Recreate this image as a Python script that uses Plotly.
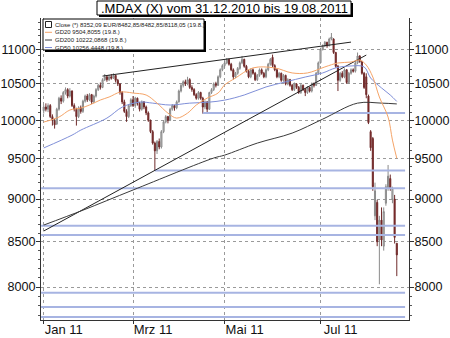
import numpy as np
import pandas as pd
import plotly.graph_objects as go

# ---------------- data ----------------
holidays = ["2011-04-22", "2011-04-25"]
dates = [d for d in pd.bdate_range("2011-01-03", "2011-08-19") if d.strftime("%Y-%m-%d") not in holidays]
month_labels = {1: "Jan 11", 3: "Mrz 11", 5: "Mai 11", 7: "Jul 11"}

opens = [10130,10180,10150,10200,10050,9990,9950,10150,10300,10260,10380,10420,10330,10400,10200,10150,10050,10170,10120,10260,10330,
         10280,10350,10250,10330,10420,10480,10450,10560,10600,10560,10600,10580,10620,10550,10500,10380,10250,10120,10050,10200,
         10280,10200,10300,10230,10150,10250,10180,10100,10000,9850,9700,9600,9720,9650,9850,9980,10050,10000,10150,10200,10170,10250,10400,
         10480,10530,10500,10560,10450,10420,10350,10300,10380,10300,10180,10250,10150,10380,10420,10500,10480,10600,10700,
         10760,10800,10850,10780,10700,10600,10650,10720,10800,10850,10750,10680,10600,10700,10650,10560,10620,10700,10650,10600,10700,10780,
         10880,10760,10700,10600,10650,10550,10620,10500,10560,10480,10420,10500,10450,10380,10480,10420,10380,10450,10400,10500,10480,10650,
         10800,11000,11050,11100,11050,11150,11150,10950,10750,10550,10650,10600,10700,10520,10650,10700,10680,10800,10900,10820,10650,
         10600,10330,9850,9760,8800,8960,8520,8750,8450,8950,9130,9250,9000,9000,8482.85]
highs = [10210,10230,10230,10220,10080,10020,10170,10320,10340,10400,10450,10440,10440,10410,10230,10170,10190,10200,10280,10350,10360,
         10370,10360,10350,10440,10500,10520,10580,10640,10620,10630,10640,10650,10630,10570,10510,10400,10280,10150,10220,10300,
         10330,10320,10310,10250,10270,10260,10200,10120,10010,9870,9720,9740,9760,9870,10000,10070,10060,10170,10220,10210,10270,10420,10500,
         10550,10560,10600,10580,10480,10440,10370,10400,10390,10320,10270,10260,10390,10440,10520,10530,10620,10720,10780,
         10830,10870,10860,10800,10720,10670,10740,10820,10900,10860,10770,10700,10720,10720,10670,10640,10720,10720,10670,10720,10800,10870,
         10920,10780,10720,10670,10660,10640,10630,10580,10570,10500,10520,10510,10470,10500,10490,10440,10470,10460,10520,10520,10670,10820,
         11020,11070,11120,11110,11170,11240,11160,10960,10770,10670,10680,10720,10710,10670,10720,10720,10820,10950,10910,10830,10670,
         10650,10350,9870,9780,9200,8990,8800,8900,8900,9180,9420,9300,9150,9050,8482.85]
lows = [10090,10120,10110,10030,9930,9890,9940,10130,10220,10240,10350,10300,10310,10180,10120,9930,10030,10090,10100,10240,10250,
        10260,10220,10230,10310,10400,10420,10440,10540,10530,10540,10560,10570,10520,10470,10350,10220,10100,9980,10030,10180,
        10180,10170,10200,10120,10130,10150,10070,9980,9830,9680,9350,9560,9620,9630,9830,9960,9960,9990,10130,10130,10150,10240,10380,
        10450,10470,10480,10430,10390,10330,10280,10280,10280,10090,10150,10100,10140,10360,10400,10450,10470,10580,10680,
        10730,10780,10760,10680,10560,10580,10630,10700,10780,10730,10660,10580,10580,10630,10540,10540,10600,10630,10580,10580,10680,10760,
        10740,10680,10580,10580,10530,10530,10480,10480,10460,10400,10400,10430,10360,10360,10400,10330,10360,10380,10380,10450,10470,10630,
        10790,10980,11030,11020,11040,11130,10930,10730,10400,10530,10580,10580,10500,10500,10630,10660,10660,10780,10800,10630,10430,
        10300,9950,9600,9100,8750,8450,8030,8450,8400,8920,9100,9100,8950,8480,8118.05]
closes = [10180,10150,10200,10050,10000,9940,10150,10300,10260,10380,10420,10330,10400,10200,10150,10050,10170,10120,10260,10330,10280,
          10350,10250,10330,10420,10480,10450,10560,10600,10560,10600,10580,10620,10550,10500,10380,10250,10120,10050,10200,10280,
          10200,10300,10230,10150,10250,10180,10100,10000,9850,9700,9600,9720,9650,9850,9980,10050,10000,10150,10200,10170,10250,10400,10480,
          10530,10500,10560,10450,10420,10350,10300,10380,10300,10180,10250,10150,10380,10420,10500,10480,10600,10700,10760,
          10800,10850,10780,10700,10600,10650,10720,10800,10850,10750,10680,10600,10700,10650,10560,10620,10700,10650,10600,10700,10780,10850,
          10760,10700,10600,10650,10550,10620,10500,10560,10480,10420,10500,10450,10380,10480,10420,10380,10450,10400,10500,10480,10650,10800,
          11000,11050,11100,11050,11150,11180,10950,10750,10550,10650,10600,10700,10520,10650,10700,10680,10800,10900,10820,10650,10450,
          10350,9970,9640,9150,9100,8500,8750,8520,8850,9150,9280,9130,9130,8550,8352.09]

gd20_idx = [0, 7, 12, 17, 21, 26, 30, 35, 38, 41, 47, 52, 57, 61, 66, 70, 75, 80, 83, 88, 96, 106, 114, 121, 129, 135, 141, 145, 148, 151, 154, 158, 160, 162]
gd20_val = [9977, 10044, 10139, 10165, 10207, 10276, 10317, 10385, 10385, 10372, 10345, 10233, 10097, 10030, 10097, 10207, 10302, 10372,
            10485, 10583, 10727, 10727, 10655, 10655, 10741, 10798, 10811, 10840, 10768, 10597, 10317, 10044, 9739, 9504.8055]
gd50_idx = [0, 13, 17, 29, 36, 44, 50, 58, 67, 76, 83, 92, 102, 111, 120, 128, 134, 141, 147, 150, 155, 159, 162]
gd50_val = [9637, 9804, 9870, 10030, 10178, 10247, 10233, 10207, 10233, 10247, 10274, 10345, 10457, 10528, 10597, 10655, 10727, 10755,
            10741, 10583, 10443, 10345, 10256.4448]
gd200_idx = [0, 18, 41, 78, 83, 98, 114, 128, 144, 155, 162]
gd200_val = [8692, 8867, 9110, 9508, 9545, 9700, 9831, 10016, 10233, 10233, 10222.0868]

trend_x = [[0, 148], [27, 141]]
trend_y = [[8623, 10913], [10610, 11104]]

support_vals = [10100, 9350, 9130, 8684, 8578, 7939, 7789, 7685]
support_start = [73, 51, -1.2, -1.2, -1.2, -1.2, -1.2, -1.2]
support_end = 165.8

y_ticks = [8000, 8500, 9000, 9500, 10000, 10500, 11000]
title_text = ".MDAX (X) vom 31.12.2010 bis 19.08.2011"
legend_texts = ["Close (*) 8352,09 EUR/8482,85/8482,85/8118,05 (19.8.)",
                "GD20 9504,8055 (19.8.)",
                "GD200 10222,0868 (19.8.)",
                "GD50 10256,4448 (19.8.)"]

# ---------------- figure ----------------
n = len(closes)
xi = list(range(n))
month_idx, month_txt = [], []
for i, d in enumerate(dates):
    if (i == 0 or d.month != dates[i - 1].month) and d.month in month_labels:
        month_idx.append(i)
        month_txt.append(month_labels[d.month])

W, H = 450, 338
L, R, T, B = 41, 41, 18, 18
def PX(x):
    return (x - L) / (W - L - R)
def PY(y):
    return (H - B - y) / (H - T - B)

C_GD20 = "#f5a468"
C_GD50 = "#7f8fd8"
C_GD200 = "#3a3a3a"
C_SUP = "#a7b4e2"

fig = go.Figure()

for v, s in zip(support_vals, support_start):
    fig.add_trace(go.Scatter(x=[s, support_end], y=[v, v], mode="lines",
                             line=dict(color=C_SUP, width=2), hoverinfo="skip", showlegend=False))

for tx, ty in zip(trend_x, trend_y):
    fig.add_trace(go.Scatter(x=tx, y=ty, mode="lines", line=dict(color="#222222", width=1),
                             hoverinfo="skip", showlegend=False))

fig.add_trace(go.Scatter(x=gd200_idx, y=gd200_val, mode="lines", line=dict(color=C_GD200, width=1, shape="spline"), showlegend=False))
fig.add_trace(go.Scatter(x=gd50_idx, y=gd50_val, mode="lines", line=dict(color=C_GD50, width=1, shape="spline"), showlegend=False))
fig.add_trace(go.Scatter(x=gd20_idx, y=gd20_val, mode="lines", line=dict(color=C_GD20, width=1, shape="spline"), showlegend=False))

fig.add_trace(go.Candlestick(x=xi, open=opens, high=highs, low=lows, close=closes,
                             increasing=dict(fillcolor="#c4c4c4", line=dict(color="#8a8a8a", width=1)),
                             decreasing=dict(fillcolor="#8b1e1e", line=dict(color="#6e2a2a", width=1)),
                             whiskerwidth=0, showlegend=False))

# dummy for right axis
fig.add_trace(go.Scatter(x=[0], y=[closes[0]], yaxis="y2", mode="markers", marker=dict(opacity=0),
                         hoverinfo="skip", showlegend=False))

yr = [np.log10(7655), np.log10(11468)]
font = "Liberation Sans, Arial, sans-serif"
yaxis_common = dict(type="log", range=yr, tickvals=y_ticks, ticktext=[str(t) for t in y_ticks],
                    ticks="outside", ticklen=4, tickcolor="#333", showline=True, linecolor="#333", linewidth=1,
                    tickfont=dict(size=12.6, color="#111", family=font), zeroline=False, automargin=False,
                    ticklabelstandoff=-2,
                    minor=dict(tickvals=list(range(7700, 11500, 100)), ticks="outside", ticklen=2, tickcolor="#555"))

fig.update_layout(
    width=W, height=H, margin=dict(l=L, r=R, t=T, b=B, autoexpand=False), paper_bgcolor="white", plot_bgcolor="white",
    font=dict(family=font),
    xaxis=dict(range=[-1.24, 167.6], tickvals=month_idx, ticktext=month_txt, ticks="outside", ticklen=3,
               tickcolor="#333", showline=True, linecolor="#333", showgrid=True, gridcolor="#9a9a9a", griddash="dot",
               gridwidth=1, tickfont=dict(size=13, color="#111", family=font), ticklabelshift=20, ticklabelstandoff=-6,
               automargin=False, rangeslider=dict(visible=False), zeroline=False),
    yaxis=dict(**yaxis_common, side="left", showgrid=True, gridcolor="#9a9a9a", griddash="dot", gridwidth=1),
    yaxis2=dict(**yaxis_common, side="right", overlaying="y", showgrid=False),
    showlegend=False,
)

shapes = []
def box(x0, y0, x1, y1, sh=2):
    shapes.append(dict(type="rect", xref="paper", yref="paper", x0=PX(x0 + sh), x1=PX(x1 + sh), y0=PY(y1 + sh), y1=PY(y0 + sh),
                       fillcolor="black", line=dict(width=0), layer="above"))
    shapes.append(dict(type="rect", xref="paper", yref="paper", x0=PX(x0), x1=PX(x1), y0=PY(y1), y1=PY(y0),
                       fillcolor="white", line=dict(color="black", width=1), layer="above"))

box(97, 1, 351, 15)
box(43, 19, 204, 50)

leg_y = [24.5, 32.3, 40, 47.5]
shapes.append(dict(type="rect", xref="paper", yref="paper", x0=PX(45.5), x1=PX(51.5), y0=PY(27.5), y1=PY(21.5),
                   fillcolor="white", line=dict(color="#222", width=1), layer="above"))
for yy, col in zip(leg_y[1:], [C_GD20, C_GD200, C_GD50]):
    shapes.append(dict(type="line", xref="paper", yref="paper", x0=PX(45), x1=PX(52), y0=PY(yy), y1=PY(yy),
                       line=dict(color=col, width=1), layer="above"))

annotations = [dict(text=title_text, xref="paper", yref="paper", x=PX(99), y=PY(8.5), xanchor="left", yanchor="middle",
                    showarrow=False, font=dict(size=13, color="black", family=font))]
for yy, t in zip(leg_y, legend_texts):
    annotations.append(dict(text=t, xref="paper", yref="paper", x=PX(53), y=PY(yy), xanchor="left", yanchor="middle",
                            showarrow=False, font=dict(size=6, color="#222", family=font)))

fig.update_layout(shapes=shapes, annotations=annotations)
fig.write_html("out.html")
